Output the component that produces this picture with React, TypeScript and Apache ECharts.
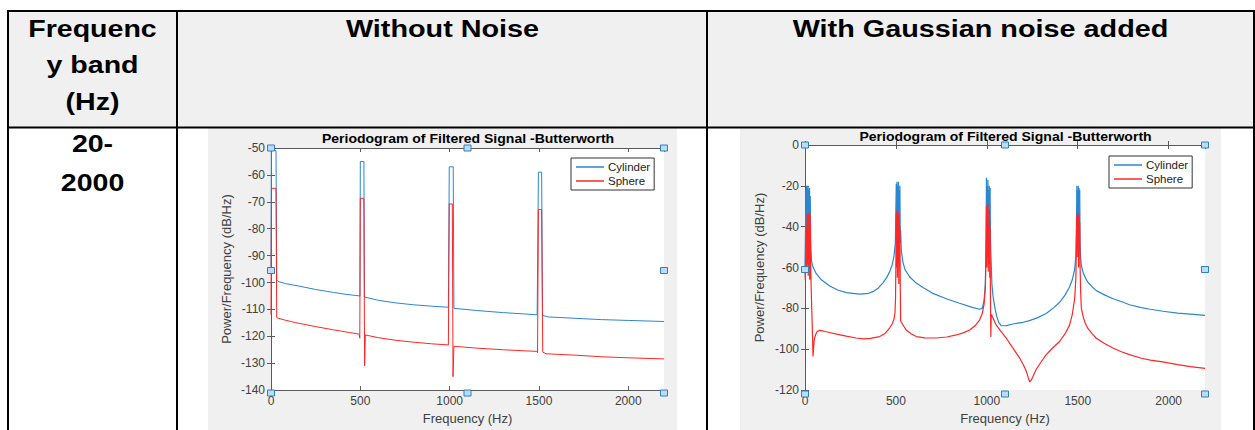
import React, { useEffect, useRef } from "react";
import * as echarts from "echarts";

// ---------- data ----------
const headerCol1 = ["Frequenc", "y band", "(Hz)"];
const headerCol2 = "Without Noise";
const headerCol3 = "With Gaussian noise added";
const bandLabel = ["20-", "2000"];
const chartTitle = "Periodogram of Filtered Signal -Butterworth";
const seriesNames = ["Cylinder", "Sphere"];
const xTicks = [0, 500, 1000, 1500, 2000];

// Without noise: [Hz, dB/Hz]
const cylinderClean: number[][] = [
  [0, -97], [2, -50], [28, -51], [32, -99], [40, -99.6], [80, -100.4], [162, -101.4], [250, -102.6],
  [350, -103.7], [420, -104.4], [498, -105], [500, -55], [520, -55], [523, -105.4], [600, -106.6],
  [700, -107.6], [800, -108.3], [900, -108.8], [993, -109.2], [998, -57], [1020, -57], [1024, -109.6],
  [1150, -110.4], [1300, -111.2], [1420, -111.7], [1490, -112], [1497, -59], [1515, -59], [1520, -112.2],
  [1553, -112.8], [1700, -113.3], [1850, -113.8], [2000, -114.1], [2200, -114.5]
];
const sphereClean: number[][] = [
  [0, -112], [3, -65], [28, -65], [32, -113], [40, -113.3], [80, -114], [136, -114.9], [250, -116.4],
  [350, -117.6], [440, -118.6], [494, -119.2], [497, -120.7], [500, -68.7], [520, -68.7], [524, -131],
  [528, -119.5], [600, -120.5], [700, -121.5], [800, -122.2], [900, -122.8], [993, -123.2], [998, -70.8],
  [1015, -70.8], [1019, -135], [1024, -123.7], [1150, -124.4], [1300, -125], [1420, -125.4], [1487, -125.6],
  [1492, -126.1], [1497, -72.9], [1515, -72.9], [1521, -125.9], [1540, -126.5], [1700, -127], [1850, -127.6],
  [2000, -128], [2200, -128.4]
];

// With Gaussian noise: [Hz, dB/Hz]
const cylinderNoisy: number[][] = [
  [0, -60], [3, -40], [5, -22], [7, -45], [9, -20], [11, -50], [13, -21], [15, -38], [17, -20], [19, -55],
  [21, -22], [23, -42], [25, -21], [27, -48], [29, -25], [31, -45], [33, -52], [36, -57], [45, -60], [62, -63],
  [90, -66], [136, -69], [180, -71], [227, -72.3], [300, -73], [350, -72.6], [374, -71.8], [400, -70.3],
  [429, -67.5], [450, -64.8], [466, -62], [480, -58.5], [490, -54], [497, -48],
  [500, -30], [502, -19], [504, -45], [506, -18], [508, -52], [510, -20], [512, -40], [514, -18], [516, -50],
  [518, -22], [520, -35], [522, -20], [524, -48], [526, -42],
  [530, -52], [539, -57.5], [550, -61], [575, -64.5], [610, -67.5], [649, -69.8], [700, -72.5], [777, -75.3],
  [850, -77.5], [920, -79.5], [960, -80.4], [975, -80], [985, -76], [992, -68],
  [996, -45], [998, -16], [1000, -50], [1002, -20], [1004, -40], [1006, -17], [1008, -55], [1010, -22],
  [1012, -38], [1014, -20], [1016, -50], [1018, -21], [1020, -45], [1023, -55],
  [1028, -68], [1034, -74], [1045, -80], [1055, -84], [1066, -87], [1080, -88.5], [1107, -88.4], [1150, -87.5],
  [1200, -86.8], [1235, -86], [1280, -84.5], [1327, -82.5], [1370, -79.5], [1400, -77], [1430, -73.5],
  [1455, -69.5], [1470, -66], [1483, -61], [1490, -54],
  [1493, -40], [1495, -20], [1497, -50], [1499, -22], [1501, -38], [1503, -20], [1505, -52], [1507, -21],
  [1509, -36], [1511, -22], [1513, -48],
  [1516, -55], [1520, -59], [1530, -62.5], [1545, -65.5], [1556, -67.2], [1580, -69.5], [1602, -71.3],
  [1650, -73.5], [1694, -75.3], [1750, -77], [1785, -78.2], [1850, -79.6], [1900, -80.4], [1968, -81.4],
  [2050, -82.3], [2120, -82.8], [2200, -83.4]
];
const sphereNoisy: number[][] = [
  [0, -62], [2, -66], [4, -55], [6, -60], [8, -40], [10, -62], [12, -34], [14, -58], [16, -36], [18, -64],
  [20, -33], [22, -55], [24, -38], [26, -66], [28, -34], [30, -50], [32, -62], [34, -70], [37, -80], [41, -92],
  [44, -103.5], [47, -100], [50, -96], [53, -94.5], [60, -92.5], [66, -91.4], [78, -90.8], [90, -90.9],
  [110, -91.3], [136, -91.8], [180, -92.7], [227, -93.6], [280, -94.5], [319, -94.9], [360, -94.7],
  [411, -93.8], [440, -92.3], [466, -89.5], [480, -87.5], [490, -85], [495, -82], [498, -75],
  [500, -55], [502, -34], [504, -60], [506, -32], [508, -65], [510, -35], [512, -55], [514, -33], [516, -68],
  [518, -36], [520, -58], [522, -40], [524, -70], [526, -86],
  [530, -87], [535, -87.5], [545, -89], [557, -90.6], [585, -92.5], [612, -93.8], [660, -94.4], [722, -94.5],
  [780, -94], [832, -93], [870, -92], [906, -90.6], [935, -88.5], [960, -85.7], [975, -82.5], [985, -78],
  [992, -70],
  [996, -50], [998, -30], [1000, -60], [1002, -33], [1004, -55], [1006, -29], [1008, -62], [1010, -36],
  [1012, -58], [1014, -32], [1016, -65], [1018, -40], [1020, -75], [1022, -94], [1024, -84],
  [1026, -83], [1035, -85], [1052, -88.2], [1080, -91.5], [1107, -94.6], [1140, -99], [1180, -104.2],
  [1200, -107.5], [1217, -110.7], [1230, -114.5], [1236, -116], [1245, -115], [1258, -112.5], [1272, -109.8],
  [1300, -106], [1327, -102.6], [1360, -99.5], [1400, -96.2], [1430, -92.5], [1455, -88.2], [1470, -83],
  [1483, -75.3], [1490, -65],
  [1493, -45], [1495, -34], [1497, -55], [1499, -33], [1501, -50], [1503, -35], [1505, -60], [1507, -34],
  [1509, -52], [1511, -38], [1513, -60],
  [1516, -72], [1520, -80], [1530, -84], [1540, -87], [1556, -89.8], [1580, -92.5], [1602, -94.6],
  [1650, -97.3], [1694, -99.4], [1740, -101.2], [1785, -102.6], [1850, -104.4], [1900, -105.3],
  [1968, -106.2], [2050, -107.5], [2120, -108.5], [2200, -109.4]
];

// ---------- layout ----------
const W = 1255;
const H = 430;
const G1 = { left: 271, top: 148, width: 393, height: 245 };
const G2 = { left: 805, top: 145, width: 400, height: 249 };
const BLUE = "#2a86d0";
const RED = "#ff2626";
const AX = "#5a5a5a";
const LBL = "#404040";
const FONT = "Liberation Sans, Arial, Helvetica, sans-serif";

function axisPair(gridIndex: number, min: number, max: number, interval: number, isX: boolean, nameGap: number, labelMargin: number) {
  const main: any = {
    gridIndex, type: "value", min, max, interval,
    position: isX ? "bottom" : "left",
    axisLine: { show: true, lineStyle: { color: AX, width: 1 } },
    axisTick: { show: true, inside: true, length: 4, lineStyle: { color: AX } },
    axisLabel: {
      color: LBL, fontSize: 12, fontFamily: FONT, margin: labelMargin,
      showMaxLabel: isX ? false : true,
      formatter: (v: number) => (isX && !xTicks.includes(v) ? "" : String(v)),
    },
    splitLine: { show: false },
    name: isX ? "Frequency (Hz)" : "Power/Frequency (dB/Hz)",
    nameLocation: "middle",
    nameGap,
    nameTextStyle: { color: LBL, fontSize: 13, fontFamily: FONT },
  };
  const opp: any = {
    gridIndex, type: "value", min, max, interval,
    position: isX ? "top" : "right",
    axisLine: { show: true, lineStyle: { color: AX, width: 1 } },
    axisTick: { show: true, inside: true, length: 4, lineStyle: { color: AX } },
    axisLabel: { show: false },
    splitLine: { show: false },
  };
  return [main, opp];
}

function handles(g: { left: number; top: number; width: number; height: number }) {
  const xs = [g.left, g.left + g.width / 2, g.left + g.width];
  const ys = [g.top, g.top + g.height / 2, g.top + g.height];
  const out: any[] = [];
  ys.forEach((y, j) => xs.forEach((x, i) => {
    if (i === 1 && j === 1) return;
    out.push({
      type: "rect", z: 200,
      shape: { x: x - 3.5, y: y - 3, width: 7, height: 6 },
      style: { fill: "#bcdcf6", stroke: "#2f7fc2", lineWidth: 1 },
    });
  }));
  return out;
}

function txt(x: number, y: number, text: string, size: number, opts: any = {}) {
  return {
    type: "text", x, y, z: 150, scaleX: opts.scaleX ?? 1, rotation: opts.rotation ?? 0,
    style: {
      text, fill: opts.fill ?? "#000", fontSize: size, fontWeight: opts.weight ?? "bold",
      fontFamily: FONT, align: "center", verticalAlign: "middle",
    },
  };
}

export default function App() {
  const ref = useRef<HTMLDivElement>(null);
  useEffect(() => {
    if (!ref.current) return;
    const chart = echarts.init(ref.current, undefined, { renderer: "svg" });
    const [x0, x1] = axisPair(0, 0, 2200, 500, true, 20, 5);
    const [y0, y1] = axisPair(0, -140, -50, 10, false, 38, 6);
    const [x2, x3] = axisPair(1, 0, 2200, 500, true, 19, 5);
    const [y2, y3] = axisPair(1, -120, 0, 20, false, 39, 6);

    const lineSeries = (name: string, data: number[][], xi: number, yi: number, color: string, width: number) => ({
      type: "line", name, data, xAxisIndex: xi, yAxisIndex: yi, showSymbol: false, symbol: "none",
      lineStyle: { color, width }, itemStyle: { color }, silent: true,
    });

    const graphics: any[] = [
      // backgrounds
      { type: "rect", z: -10, shape: { x: 8, y: 11, width: 1246, height: 117 }, style: { fill: "#f0f0f0" } },
      { type: "rect", z: -10, shape: { x: 208, y: 128, width: 469, height: 302 }, style: { fill: "#f0f0f0" } },
      { type: "rect", z: -10, shape: { x: 740, y: 128, width: 481, height: 302 }, style: { fill: "#f0f0f0" } },
      // table lines
      { type: "rect", z: 120, shape: { x: 7, y: 10, width: 1248, height: 2 }, style: { fill: "#000" } },
      { type: "rect", z: 120, shape: { x: 7, y: 10, width: 2, height: 420 }, style: { fill: "#000" } },
      { type: "rect", z: 120, shape: { x: 176, y: 10, width: 2, height: 420 }, style: { fill: "#000" } },
      { type: "rect", z: 120, shape: { x: 706, y: 10, width: 2, height: 420 }, style: { fill: "#000" } },
      { type: "rect", z: 120, shape: { x: 1253, y: 10, width: 2, height: 420 }, style: { fill: "#000" } },
      { type: "rect", z: 120, shape: { x: 7, y: 126.5, width: 1248, height: 2 }, style: { fill: "#000" } },
      // header texts
      txt(92.5, 28.5, headerCol1[0], 24, { scaleX: 1.19 }),
      txt(92.5, 65, headerCol1[1], 24, { scaleX: 1.19 }),
      txt(92.5, 101.5, headerCol1[2], 24, { scaleX: 1.19 }),
      txt(442.5, 28.5, headerCol2, 24, { scaleX: 1.2 }),
      txt(980.5, 28.5, headerCol3, 24, { scaleX: 1.2 }),
      txt(92.5, 143.5, bandLabel[0], 24, { scaleX: 1.19 }),
      txt(92.5, 183, bandLabel[1], 24, { scaleX: 1.19 }),
      // chart titles
      txt(G1.left + G1.width / 2 + 0.5, 139, chartTitle, 12, { scaleX: 1.17 }),
      txt(G2.left + G2.width / 2 + 0.5, 136.5, chartTitle, 12, { scaleX: 1.17 }),
      ...handles(G1),
      ...handles(G2),
    ];

    const legendBase = (left: number, top: number) => ({
      data: seriesNames, orient: "vertical", left, top,
      backgroundColor: "#fff", borderColor: "#333", borderWidth: 1, borderRadius: 0,
      padding: [3, 4, 3, 5], itemGap: 2, itemWidth: 28, itemHeight: 1.5, icon: "rect",
      textStyle: { color: "#222", fontSize: 11.5, fontFamily: FONT, padding: [0, 0, 0, -1] },
      selectedMode: false,
    });

    chart.setOption({
      animation: false,
      backgroundColor: "#fff",
      grid: [
        { ...G1, show: true, backgroundColor: "#fff", borderColor: AX, borderWidth: 0, containLabel: false },
        { ...G2, show: true, backgroundColor: "#fff", borderColor: AX, borderWidth: 0, containLabel: false },
      ],
      xAxis: [x0, x1, x2, x3],
      yAxis: [y0, y1, y2, y3],
      legend: [legendBase(571, 158), legendBase(1109, 156)],
      series: [
        lineSeries(seriesNames[0], cylinderClean, 0, 0, BLUE, 1),
        lineSeries(seriesNames[1], sphereClean, 0, 0, RED, 1),
        lineSeries(seriesNames[0], cylinderNoisy, 2, 2, BLUE, 1.2),
        lineSeries(seriesNames[1], sphereNoisy, 2, 2, RED, 1.2),
      ],
      graphic: graphics,
    });
    return () => chart.dispose();
  }, []);
  return <div ref={ref} style={{ position: "absolute", left: 0, top: 0, width: W, height: H }} />;
}
